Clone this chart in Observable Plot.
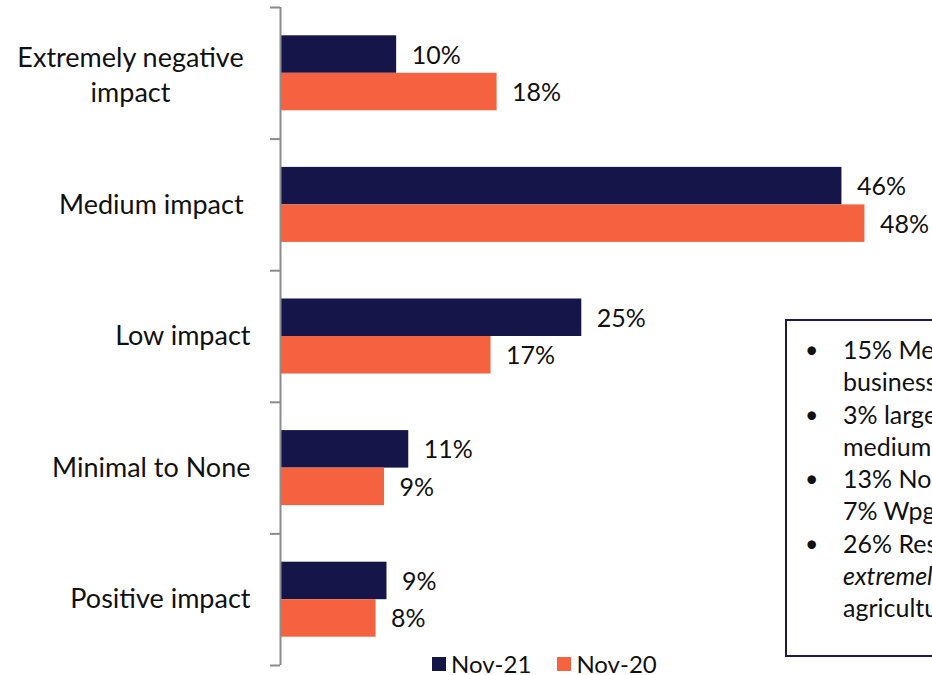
<!DOCTYPE html>
<html>
<head>
<meta charset="utf-8">
<script src="https://cdn.jsdelivr.net/npm/d3@7"></script>
<script src="https://cdn.jsdelivr.net/npm/@observablehq/plot@0.6"></script>
<style>
  html, body { margin: 0; padding: 0; background: #fff; overflow: hidden; width: 932px; height: 675px; }
  #wrap { position: relative; width: 932px; height: 675px; font-family: Lato, "Open Sans", sans-serif; }
  #legend { position: absolute; left: 432px; top: 650px; display: flex; align-items: center; font-size: 24px; line-height: 28px; color: #111; }
  #legend .sw { display: inline-block; width: 14px; height: 14px; margin-right: 5px; }
  #legend .it { display: flex; align-items: center; margin-right: 26px; }
  #box { position: absolute; left: 785px; top: 319px; width: 440px; height: 338px; border: 2px solid #1b1b4b; box-sizing: border-box; font-size: 25px; line-height: 32.3px; color: #111; padding-top: 12px; }
  #box .ln { position: relative; padding-left: 56px; white-space: nowrap; }
  #box .b { position: absolute; left: 18px; font-size: 23px; }
</style>
</head>
<body>
<div id="wrap">
  <div id="chart"></div>
  <div id="box"></div>
  <div id="legend"></div>
</div>
<script>
// Data
const categories = ["Extremely negative impact", "Medium impact", "Low impact", "Minimal to None", "Positive impact"];
const seriesNames = ["Nov-21", "Nov-20"];
const nov21 = [9.6, 46.4, 24.9, 10.6, 8.8];
const nov20 = [17.9, 48.3, 17.4, 8.6, 7.9];
const colors = ["#15154a", "#f4623f"];
const boxLines = [
  {bullet: true, text: "15% Medium-sized"},
  {bullet: false, text: "businesses"},
  {bullet: true, text: "3% large and small"},
  {bullet: false, text: "medium businesses"},
  {bullet: true, text: "13% Northern Manitoba"},
  {bullet: false, text: "7% Wpg"},
  {bullet: true, text: "26% Respondents in"},
  {bullet: false, text: "extremely negative", italic: true},
  {bullet: false, text: "agriculture"}
];

const rows = [];
categories.forEach((c, i) => {
  rows.push({i, cat: c, series: seriesNames[0], value: nov21[i]});
  rows.push({i, cat: c, series: seriesNames[1], value: nov20[i]});
});

const h = 0.285; // bar thickness as fraction of a category band
const y1 = d => d.series === seriesNames[0] ? d.i - h : d.i;
const y2 = d => d.series === seriesNames[0] ? d.i : d.i + h;
const ymid = d => (y1(d) + y2(d)) / 2;

const bounds = d3.range(categories.length + 1).map(k => k - 0.5);
const axisGray = "#8c8c8c";

const chart = Plot.plot({
  width: 932,
  height: 675,
  marginLeft: 280,
  marginRight: 47,
  marginTop: 7,
  marginBottom: 10,
  style: {fontFamily: "Lato, 'Open Sans', sans-serif", fontSize: "25px", color: "#111", background: "#fff"},
  x: {domain: [0, 50], axis: null},
  y: {domain: [-0.5, categories.length - 0.5], reverse: true, axis: null},
  color: {domain: seriesNames, range: colors},
  marks: [
    Plot.rectX(rows, {x1: 0, x2: "value", y1, y2, fill: "series"}),
    Plot.ruleX([0], {stroke: axisGray, strokeWidth: 2}),
    Plot.axisY({ticks: bounds, tickSize: 10, tickFormat: () => "", stroke: axisGray, strokeWidth: 2}),
    Plot.axisY({ticks: d3.range(1, categories.length), tickSize: 0, tickPadding: 30, fontSize: 27,
      tickFormat: i => categories[i] + (i === 1 ? "\u00a0" : "")}),
    Plot.axisY({ticks: [0], tickSize: 0, tickPadding: 150, textAnchor: "middle", lineHeight: 1.3, fontSize: 27,
      tickFormat: i => "Extremely negative\nimpact"}),
    Plot.text(rows, {x: "value", y: ymid, text: d => Math.round(d.value) + "%", textAnchor: "start", dx: 15, dy: 1, fontSize: 25, fill: "#111"})
  ]
});
document.getElementById("chart").appendChild(chart);

// Legend
const legend = document.getElementById("legend");
seriesNames.forEach((s, k) => {
  const it = document.createElement("div");
  it.className = "it";
  it.innerHTML = `<span class="sw" style="background:${colors[k]}"></span><span>${s}</span>`;
  legend.appendChild(it);
});

// Text box
const box = document.getElementById("box");
boxLines.forEach(l => {
  const d = document.createElement("div");
  d.className = "ln";
  d.innerHTML = (l.bullet ? '<span class="b">•</span>' : "") + (l.italic ? `<i>${l.text}</i>` : l.text);
  box.appendChild(d);
});
</script>
</body>
</html>
